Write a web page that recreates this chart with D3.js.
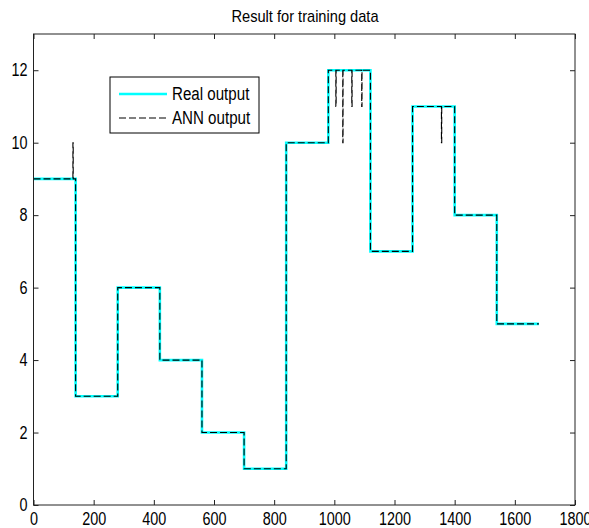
<!DOCTYPE html>
<html>
<head>
<meta charset="utf-8">
<script src="https://cdn.jsdelivr.net/npm/d3@7"></script>
<style>
  body { margin: 0; background: #fff; }
  text { font-family: "Liberation Sans", Arial, sans-serif; fill: #000; }
</style>
</head>
<body>
<div id="chart"></div>
<script>
// step segments (start sample) and their levels
const segStart = [0, 140, 280, 420, 560, 700, 840, 980, 1120, 1260, 1400, 1540]
const segEnd = 1680
const realLevels = [9, 3, 6, 4, 2, 1, 10, 12, 7, 11, 8, 5]
// single-sample glitches in ANN output
const spikeX = [131, 1005, 1028, 1058, 1091, 1356]
const spikeY = [10, 11, 10, 11, 11, 10]
const xTicks = [0, 200, 400, 600, 800, 1000, 1200, 1400, 1600, 1800]
const yTicks = [0, 2, 4, 6, 8, 10, 12]

const W = 589, H = 528
const margin = {top: 34, right: 14, bottom: 23, left: 33.5}
const width = W - margin.left - margin.right
const height = H - margin.top - margin.bottom

const svg = d3.select("#chart")
    .append("svg")
    .attr("width", W)
    .attr("height", H)

const g = svg.append("g")
    .attr("transform", `translate(${margin.left}, ${margin.top})`)

const x = d3.scaleLinear().domain([0, 1800]).range([0, width])
const y = d3.scaleLinear().domain([0, 13]).range([height, 0])

// matlab's screen font is narrow, squeeze the glyphs
const narrow = (sel, k = 0.8) => sel.each(function () {
    const len = this.getComputedTextLength()
    d3.select(this).attr("textLength", len * k).attr("lengthAdjust", "spacingAndGlyphs")
})

// build step points
const realPts = segStart.map((s, i) => [s, realLevels[i]])
realPts.push([segEnd, realLevels[realLevels.length - 1]])

const annPts = []
segStart.forEach((s, i) => {
    const e = i < segStart.length - 1 ? segStart[i + 1] : segEnd
    annPts.push([s, realLevels[i]])
    spikeX.forEach((sx, j) => {
        if (sx >= s && sx < e) {
            annPts.push([sx, spikeY[j]])
            annPts.push([sx + 1, realLevels[i]])
        }
    })
})
annPts.push([segEnd, realLevels[realLevels.length - 1]])

const line = d3.line()
    .x(d => x(d[0]))
    .y(d => y(d[1]))
    .curve(d3.curveStepAfter)

g.append("path")
    .datum(realPts)
    .attr("fill", "none")
    .attr("stroke", "#00ffff")
    .attr("stroke-width", 2.6)
    .attr("d", line)

g.append("path")
    .datum(annPts)
    .attr("fill", "none")
    .attr("stroke", "#000")
    .attr("stroke-width", 1.1)
    .attr("stroke-dasharray", "7,3")
    .attr("d", line)

// axes, ticks pointing inward on all four sides
const tickLen = 5
const axisStyle = sel => {
    sel.select(".domain").remove()
    sel.selectAll(".tick line").attr("stroke", "#222")
    sel.selectAll("text").style("font-size", "18px").call(narrow)
}

g.append("g")
    .attr("transform", `translate(0, ${height})`)
    .call(d3.axisBottom(x).tickValues(xTicks).tickSize(-tickLen).tickPadding(7).tickFormat(d3.format("d")))
    .call(axisStyle)

g.append("g")
    .call(d3.axisTop(x).tickValues(xTicks).tickSize(-tickLen).tickFormat(""))
    .call(axisStyle)

g.append("g")
    .call(d3.axisLeft(y).tickValues(yTicks).tickSize(-tickLen).tickPadding(6).tickFormat(d3.format("d")))
    .call(axisStyle)

g.append("g")
    .attr("transform", `translate(${width}, 0)`)
    .call(d3.axisRight(y).tickValues(yTicks).tickSize(-tickLen).tickFormat(""))
    .call(axisStyle)

g.append("rect")
    .attr("width", width)
    .attr("height", height)
    .attr("fill", "none")
    .attr("stroke", "#222")
    .attr("stroke-width", 1)

svg.append("text")
    .attr("x", 305)
    .attr("y", 22)
    .attr("text-anchor", "middle")
    .style("font-size", "17px")
    .text("Result for training data")
    .call(narrow, 0.86)

// legend
const legend = svg.append("g").attr("transform", "translate(110, 77)")
legend.append("rect")
    .attr("width", 149)
    .attr("height", 56)
    .attr("fill", "#fff")
    .attr("stroke", "#000")

const legendItems = [
    {label: "Real output", color: "#00ffff", w: 2.6, dash: null},
    {label: "ANN output", color: "#000", w: 1.1, dash: "7,3"}
]
legendItems.forEach((d, i) => {
    const ly = 17 + i * 24
    legend.append("line")
        .attr("x1", 9).attr("x2", 57)
        .attr("y1", ly).attr("y2", ly)
        .attr("stroke", d.color)
        .attr("stroke-width", d.w)
        .attr("stroke-dasharray", d.dash)
    legend.append("text")
        .attr("x", 62)
        .attr("y", ly + 6)
        .style("font-size", "18px")
        .text(d.label)
        .call(narrow, 0.84)
})
</script>
</body>
</html>
